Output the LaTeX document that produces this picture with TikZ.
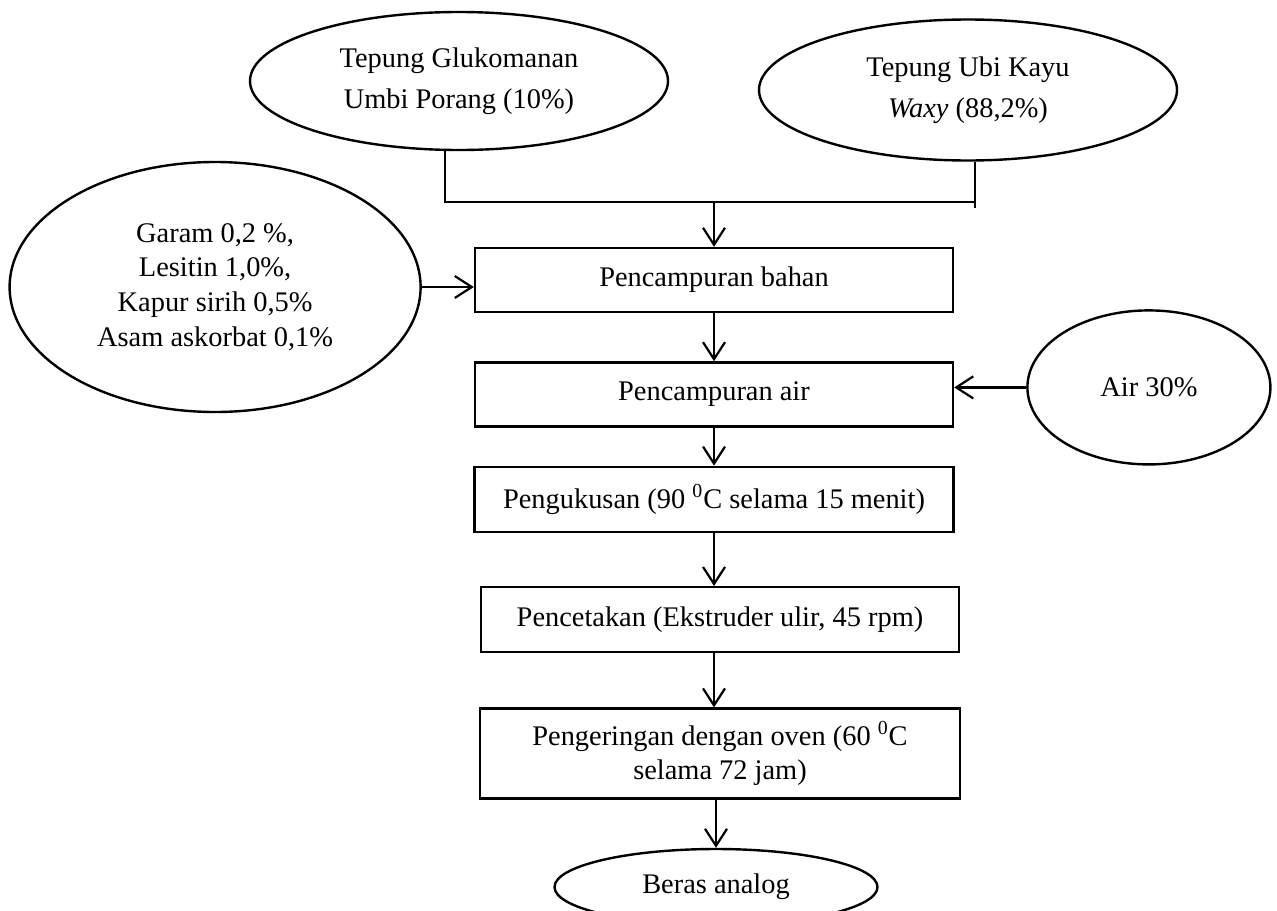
\documentclass[tikz,border=0pt]{standalone}
\usepackage{fontspec}
\setmainfont{Liberation Serif}
\usetikzlibrary{positioning,shapes.geometric,arrows.meta}
\tikzset{proc box/.style={rectangle,draw,line width=1.2pt,minimum width=239pt,minimum height=32pt,inner sep=0pt,align=center,font=\fontsize{14.2}{17.3}\selectfont},
         input node/.style={ellipse,draw,line width=1.2pt,inner sep=0pt,align=center,font=\fontsize{14.2}{17.3}\selectfont},
         arr/.style={-{Straight Barb[length=8.5pt,width=11pt]},line width=1.1pt},
            }

\begin{document}
\begin{tikzpicture}[x=0.5pt,y=-0.5pt]
    \useasboundingbox (0,0) rectangle (1277,910);

    \node[input node,minimum width=209pt,minimum height=69pt,font=\fontsize{14.2}{20.5}\selectfont] (glu) at (459,81) {Tepung Glukomanan\\Umbi Porang (10\%)};
    \node[input node,minimum width=209pt,minimum height=70.5pt,font=\fontsize{14.2}{20.5}\selectfont] (ubi) at (968,90) {Tepung Ubi Kayu\\\textit{Waxy} (88,2\%)};

    \node[proc box] (mix1) at (714,280) {Pencampuran bahan};
    \node[proc box] (mix2) [below = 24pt of mix1] {Pencampuran air};
    \node[proc box,minimum width=239.5pt,minimum height=32.5pt] (steam) [below = 19pt of mix2] {Pengukusan (90 \textsuperscript{0}C selama 15 menit)};
    \node[proc box,minimum height=32.5pt] (mold) [below = 26.5pt of steam,xshift=3pt] {Pencetakan (Ekstruder ulir, 45 rpm)};
    \node[proc box,minimum width=240pt,minimum height=45pt] (dry) [below = 27pt of mold] {Pengeringan dengan oven (60 \textsuperscript{0}C\\selama 72 jam)};
    \node[input node,minimum width=161.5pt,minimum height=38pt] (rice) [below = 24pt of dry,xshift=-2pt] {Beras analog};

    \node[input node,minimum width=205.5pt,minimum height=125pt] (add) [left = 26pt of mix1,yshift=-3.5pt] {Garam 0,2 \%,\\Lesitin 1,0\%,\\Kapur sirih 0,5\%\\Asam askorbat 0,1\%};
    \node[input node,minimum width=121.5pt,minimum height=77pt] (air) [right = 36pt of mix2,yshift=3.5pt] {Air 30\%};

    % gabungan dua tepung
    \coordinate (jl) at (445,202);
    \coordinate (jr) at (975,202);
    \coordinate (jr2) at (975,208);
    \coordinate (jm) at (714,202);
    \draw[line width=1.1pt] (jl |- glu.south) -- (jl) -- (jr);
    \draw[line width=1.1pt] (jr2 |- ubi.south) -- (jr2);
    \draw[arr] (jm) -- (jm |- mix1.north);

    \draw[arr] (add.east) -- (add.east -| mix1.west);
    \draw[arr] (air.west) -- (air.west -| mix2.east);

    \draw[arr] (mix1.south) -- (mix1.south |- mix2.north);
    \draw[arr] (mix2.south) -- (mix2.south |- steam.north);
    \draw[arr] (steam.south) -- (steam.south |- mold.north);
    \draw[arr] (mold.south -| steam.south) -- (steam.south |- dry.north);
    \draw[arr] (dry.south -| rice.north) -- (rice.north);

\end{tikzpicture}
\end{document}
